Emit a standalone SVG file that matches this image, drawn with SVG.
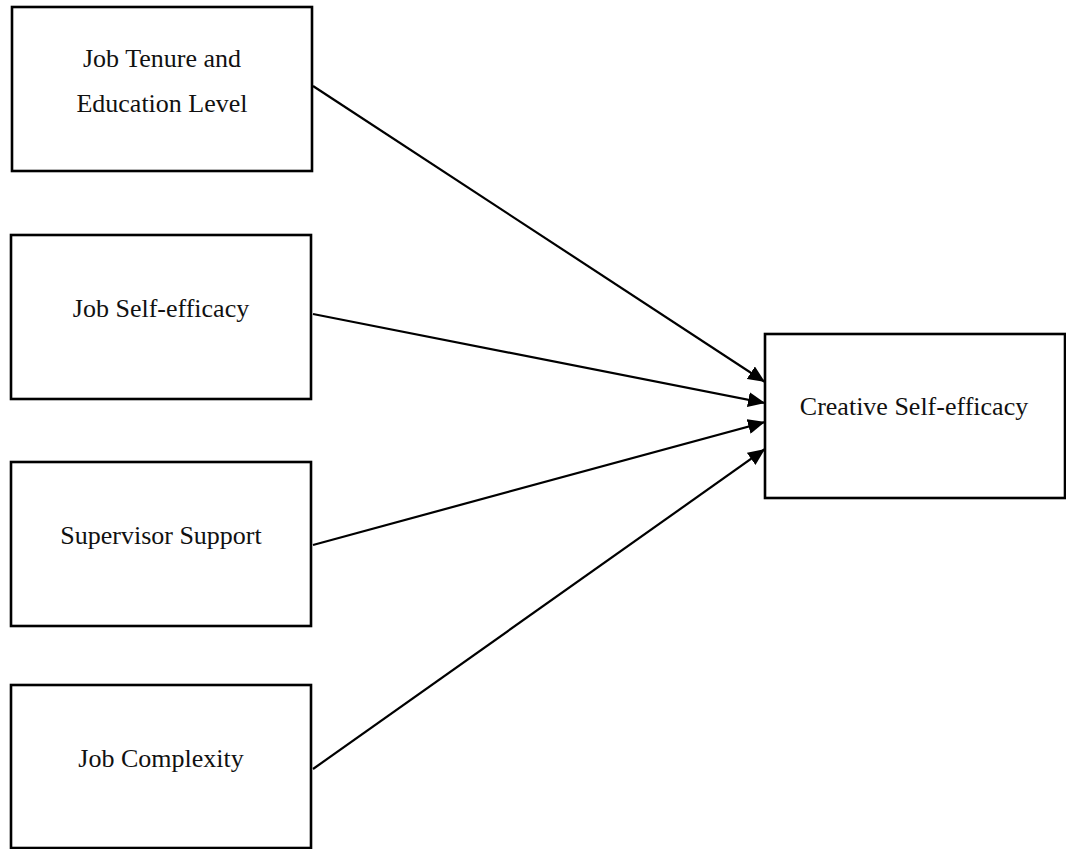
<svg xmlns="http://www.w3.org/2000/svg" width="1066" height="849" viewBox="0 0 1066 849">
<style>
.box{fill:#fff;stroke:#000;stroke-width:2.6}
.lbl{font-family:"Liberation Serif","Times New Roman",serif;font-size:26px;fill:#111;text-anchor:middle}
.conn{stroke:#000;stroke-width:2.2;fill:none;marker-end:url(#ah)}
</style>
<defs>
<marker id="ah" markerUnits="userSpaceOnUse" markerWidth="19" markerHeight="15" refX="17" refY="7.5" orient="auto">
<path d="M0,0 L17,7.5 L0,15 Z" fill="#000"/>
</marker>
</defs>
<rect width="1066" height="849" fill="#fff"/>
<g id="connectors">
<line class="conn" x1="313" y1="86" x2="765" y2="382"/>
<line class="conn" x1="313" y1="314" x2="765" y2="403"/>
<line class="conn" x1="313" y1="545" x2="765" y2="422"/>
<line class="conn" x1="313" y1="769" x2="765" y2="449"/>
</g>
<g id="n1">
<rect class="box" x="12" y="7" width="300" height="164"/>
<text class="lbl" x="162" y="67">Job Tenure and</text>
<text class="lbl" x="162" y="112">Education Level</text>
</g>
<g id="n2">
<rect class="box" x="11" y="235" width="300" height="164"/>
<text class="lbl" x="161" y="317">Job Self-efficacy</text>
</g>
<g id="n3">
<rect class="box" x="11" y="462" width="300" height="164"/>
<text class="lbl" x="161" y="544">Supervisor Support</text>
</g>
<g id="n4">
<rect class="box" x="11" y="685" width="300" height="163"/>
<text class="lbl" x="161" y="767">Job Complexity</text>
</g>
<g id="n5">
<rect class="box" x="765" y="334" width="300" height="164"/>
<text class="lbl" x="914" y="415">Creative Self-efficacy</text>
</g>
</svg>
